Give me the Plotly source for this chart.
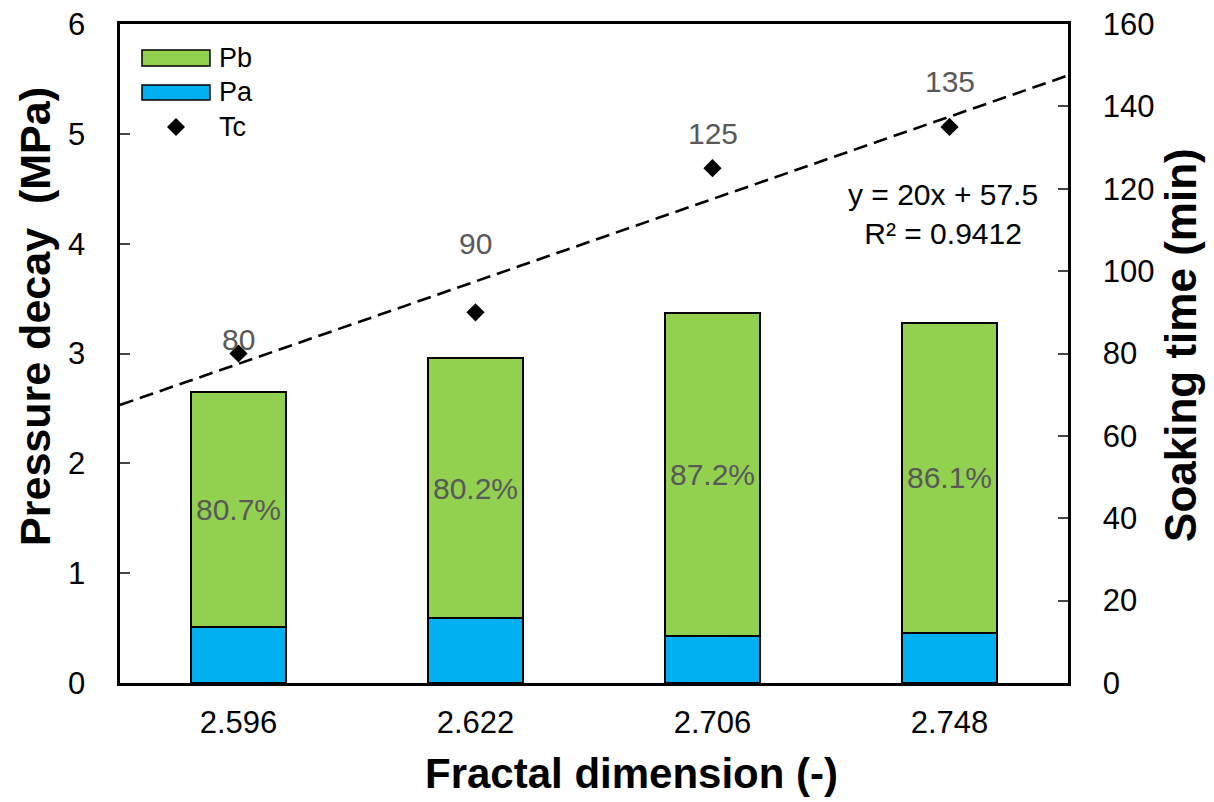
import numpy as np
import plotly.graph_objects as go

categories = ["2.596", "2.622", "2.706", "2.748"]
pa = [0.51, 0.59, 0.43, 0.455]
total = [2.65, 2.96, 3.37, 3.28]
pb = [t - a for t, a in zip(total, pa)]
pct_labels = ["80.7%", "80.2%", "87.2%", "86.1%"]
tc = [80, 90, 125, 135]
tc_label_shift = [14, 69, 35, 45]

x = np.arange(1, len(categories) + 1)
GREEN = "#92D050"
BLUE = "#00B0F0"
GRAY = "#595959"
FONT = "Liberation Sans, Arial, sans-serif"
NB = "\u00a0"

fig = go.Figure()
fig.add_trace(go.Bar(x=x, y=pa, name="Pa", width=0.4, marker=dict(color=BLUE, line=dict(color="black", width=1.5)), showlegend=False))
fig.add_trace(go.Bar(x=x, y=pb, base=pa, name="Pb", width=0.4, marker=dict(color=GREEN, line=dict(color="black", width=1.5)),
                     text=pct_labels, textposition="inside", insidetextanchor="middle",
                     textfont=dict(color=GRAY, size=30, family=FONT), showlegend=False))

slope, intercept = np.polyfit(x, tc, 1)
xt = np.array([0.5, 4.5])
fig.add_trace(go.Scatter(x=xt, y=slope * xt + intercept, mode="lines", yaxis="y2",
                         line=dict(color="black", width=2.6, dash="14px,7px"), showlegend=False))
fig.add_trace(go.Scatter(x=x, y=tc, mode="markers", yaxis="y2", name="Tc",
                         marker=dict(symbol="diamond", size=14, color="black"), showlegend=False))

for xi, v, s in zip(x, tc, tc_label_shift):
    fig.add_annotation(x=xi, y=v, yref="y2", text=str(v), showarrow=False, yshift=s,
                       font=dict(color=GRAY, size=30, family=FONT))

pred = slope * x + intercept
r2 = 1 - np.sum((np.array(tc) - pred) ** 2) / np.sum((np.array(tc) - np.mean(tc)) ** 2)
fig.add_annotation(x=0.868, y=0.7117, xref="paper", yref="paper", showarrow=False,
                   xanchor="center", yanchor="middle",
                   text=f"y = {slope:.0f}x + {intercept:.1f}<br>R² = {r2:.4f}",
                   font=dict(color="black", size=30, family=FONT), align="center")

# manual legend
leg = [("Pb", GREEN, 0.9363, 0.9606, 0.9484), ("Pa", BLUE, 0.8847, 0.9074, 0.8968)]
for nm, col, y0, y1, yt in leg:
    fig.add_shape(type="rect", xref="paper", yref="paper", x0=0.0232, x1=0.0949, y0=y0, y1=y1,
                  fillcolor=col, line=dict(color="black", width=1.5))
    fig.add_annotation(x=0.1023, y=yt, xref="paper", yref="paper", text=nm, showarrow=False,
                       xanchor="left", yanchor="middle",
                       font=dict(size=27, color="black", family=FONT))
cx, cy = 0.0591, 0.8437
fig.add_shape(type="path", xref="paper", yref="paper",
              path=f"M {cx} {cy+0.0137} L {cx+0.0095} {cy} L {cx} {cy-0.0137} L {cx-0.0095} {cy} Z",
              fillcolor="black", line=dict(color="black", width=0))
fig.add_annotation(x=0.1023, y=cy, xref="paper", yref="paper", text="Tc", showarrow=False,
                   xanchor="left", yanchor="middle",
                   font=dict(size=27, color="black", family=FONT))

# axis titles
fig.add_annotation(x=-0.0897, y=0.557, xref="paper", yref="paper", text="<b>Pressure decay  (MPa)</b>",
                   textangle=-90, showarrow=False, xanchor="center", yanchor="middle",
                   font=dict(size=43, color="black", family=FONT))
fig.add_annotation(x=1.1192, y=0.513, xref="paper", yref="paper", text="<b>Soaking time (min)</b>",
                   textangle=-90, showarrow=False, xanchor="center", yanchor="middle",
                   font=dict(size=44, color="black", family=FONT))
fig.add_annotation(x=0.540, y=-0.1366, xref="paper", yref="paper", text="<b>Fractal dimension (-)</b>",
                   showarrow=False, xanchor="center", yanchor="middle",
                   font=dict(size=42, color="black", family=FONT))

fig.update_layout(
    width=1198, height=794, barmode="stack", plot_bgcolor="white", paper_bgcolor="white",
    margin=dict(l=112, r=138, t=16, b=119),
    font=dict(family=FONT, color="black"),
    xaxis=dict(range=[0.5, 4.5], tickvals=list(x), ticktext=categories, showline=True, linecolor="black", linewidth=2.5,
               mirror=True, ticks="outside", ticklen=10, tickcolor="rgba(0,0,0,0)", showgrid=False, zeroline=False,
               tickfont=dict(size=31), automargin=False, ticklabeloverflow="allow"),
    yaxis=dict(range=[0, 6], dtick=1, showline=True, linecolor="black", linewidth=2.5, ticks="inside", ticklen=10,
               tickwidth=2, showgrid=False, zeroline=False, tickfont=dict(size=31), ticksuffix=NB * 3,
               automargin=False, ticklabeloverflow="allow"),
    yaxis2=dict(range=[0, 160], dtick=20, overlaying="y", side="right", showline=True, linecolor="black", linewidth=2.5,
                ticks="inside", ticklen=10, tickwidth=2, showgrid=False, zeroline=False, tickfont=dict(size=31),
                tickprefix=NB * 3, automargin=False, ticklabeloverflow="allow"),
)

fig.write_html("out.html")
